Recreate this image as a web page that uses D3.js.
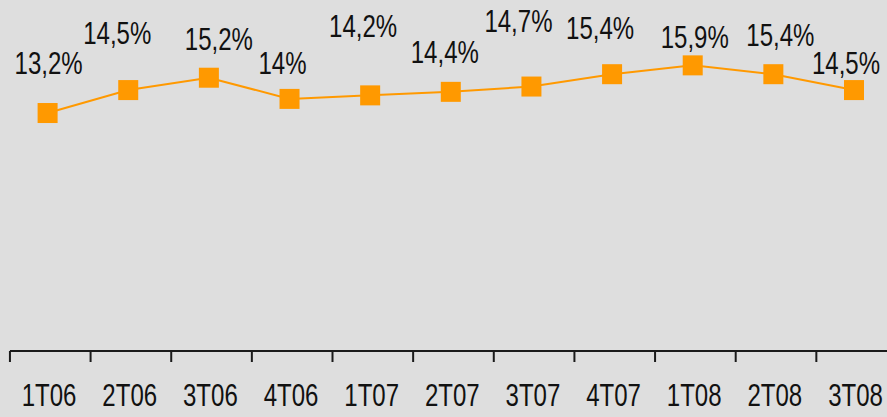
<!DOCTYPE html>
<html>
<head>
<meta charset="utf-8">
<script src="https://cdn.jsdelivr.net/npm/d3@7"></script>
<style>
  html, body { margin: 0; padding: 0; background: #dedede; }
  svg { display: block; }
  text { font-family: "Liberation Sans", Arial, sans-serif; fill: #111; font-size: 31px; }
</style>
</head>
<body>
<svg id="chart" width="887" height="417"></svg>
<script>
const quarters = ['1T06', '2T06', '3T06', '4T06', '1T07', '2T07', '3T07', '4T07', '1T08', '2T08', '3T08'];
const values = [13.2, 14.5, 15.2, 14.0, 14.2, 14.4, 14.7, 15.4, 15.9, 15.4, 14.5];
const valueLabels = ['13,2%', '14,5%', '15,2%', '14%', '14,2%', '14,4%', '14,7%', '15,4%', '15,9%', '15,4%', '14,5%'];

// hand placed label nudges (dx, baseline above marker), as in the original
const labelNudge = [[1, 39], [-11, 46], [10, 28], [-7, 25], [-7, 58], [-6, 29], [-13, 55], [-12, 35], [2, 17], [7, 28], [-8, 16]];

const svg = d3.select('#chart');
const width = +svg.attr('width');
const axisY = 351;
const squeeze = 0.775; // narrow look of the original font

const data = quarters.map((q, i) => ({q: q, v: values[i], label: valueLabels[i], nudge: labelNudge[i]}));

const x = d3.scalePoint().domain(quarters).range([47.6, 854]);
const step = x.step();
const y = d3.scaleLinear().domain([0, 16]).range([346, 63.6]);

// axis
const axisG = svg.append('g');
axisG.append('line')
    .attr('x1', x(quarters[0]) - step * 0.467).attr('x2', width)
    .attr('y1', axisY).attr('y2', axisY)
    .attr('stroke', '#1a1a1a').attr('stroke-width', 2);
axisG.selectAll('.tick')
    .data(quarters)
  .enter().append('line')
    .attr('class', 'tick')
    .attr('x1', d => x(d) - step * 0.467).attr('x2', d => x(d) - step * 0.467)
    .attr('y1', axisY).attr('y2', axisY + 11)
    .attr('stroke', '#1a1a1a').attr('stroke-width', 2);
axisG.selectAll('.qlabel')
    .data(quarters)
  .enter().append('text')
    .attr('class', 'qlabel')
    .attr('transform', d => `translate(${x(d) + 1.5},406) scale(${squeeze},1)`)
    .attr('text-anchor', 'middle')
    .text(d => d);

// line
const line = d3.line().x(d => x(d.q)).y(d => y(d.v));
svg.append('path')
    .datum(data)
    .attr('d', line)
    .attr('fill', 'none')
    .attr('stroke', '#ff9900')
    .attr('stroke-width', 2);

// markers
svg.selectAll('.marker')
    .data(data)
  .enter().append('rect')
    .attr('class', 'marker')
    .attr('x', d => x(d.q) - 10)
    .attr('y', d => y(d.v) - 10)
    .attr('width', 20)
    .attr('height', 20)
    .attr('fill', '#ff9900');

// value labels
svg.selectAll('.vlabel')
    .data(data)
  .enter().append('text')
    .attr('class', 'vlabel')
    .attr('transform', d => `translate(${x(d.q) + d.nudge[0]},${y(d.v) - d.nudge[1]}) scale(${squeeze},1)`)
    .attr('text-anchor', 'middle')
    .text(d => d.label);
</script>
</body>
</html>
